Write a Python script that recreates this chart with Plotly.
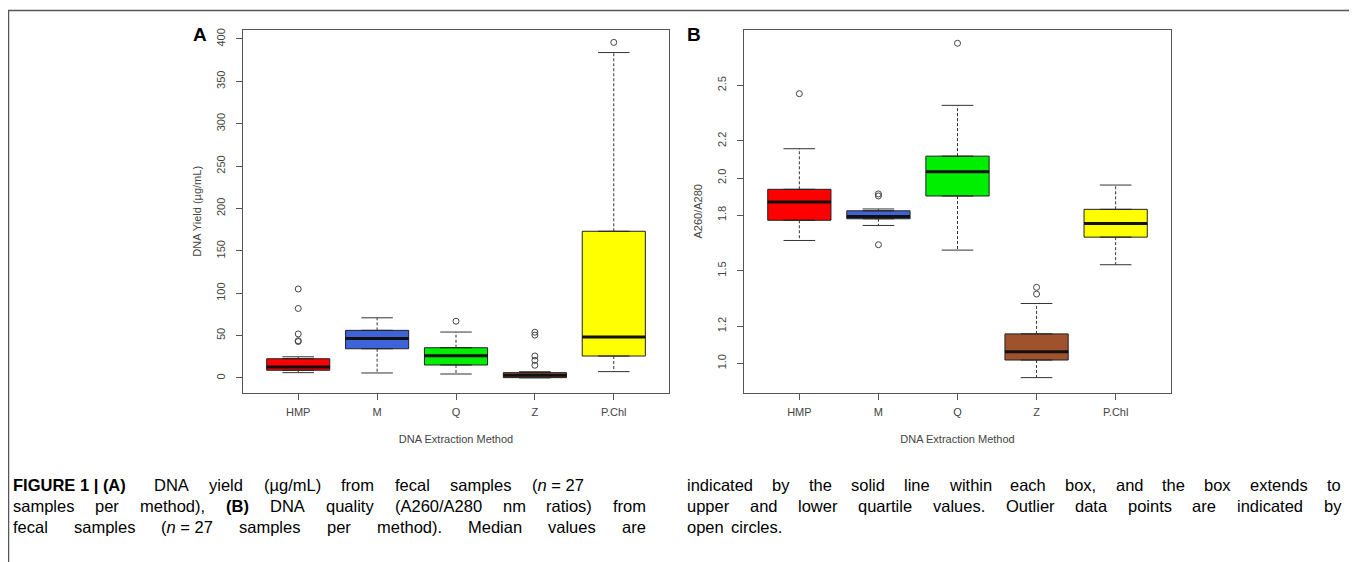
import plotly.graph_objects as go

# ---------------- data ----------------
methods = ["HMP", "M", "Q", "Z", "P.Chl"]
colors = ["#ff0000", "#3f63d8", "#00ee00", "#a0522d", "#ffff00"]

# Panel A: DNA yield (ug/mL)
yield_low = [6.3, 5.9, 4.7, 0.2, 7.5]
yield_q1 = [9.1, 34.5, 15.3, 0.4, 25.9]
yield_med = [13.0, 46.7, 26.3, 3.1, 48.3]
yield_q3 = [22.7, 56.2, 35.7, 6.3, 173.1]
yield_high = [25.0, 71.0, 54.2, 7.4, 384.0]
yield_out = [[105, 82, 52, 44, 43], [], [67], [54, 50.6, 26, 20.8, 15], [396]]

# Panel B: A260/A280
ratio_low = [1.663, 1.744, 1.611, 0.923, 1.532]
ratio_q1 = [1.772, 1.780, 1.903, 1.018, 1.681]
ratio_med = [1.871, 1.792, 2.034, 1.062, 1.754]
ratio_q3 = [1.939, 1.823, 2.118, 1.159, 1.831]
ratio_high = [2.158, 1.833, 2.392, 1.323, 1.962]
ratio_out = [[2.455], [1.914, 1.903, 1.640], [2.727], [1.410, 1.374], []]

yieldA_ticks = [0, 50, 100, 150, 200, 250, 300, 350, 400]
ratioB_ticks = [1.0, 1.2, 1.5, 1.8, 2.0, 2.2, 2.5]

# ---------------- figure ----------------
W, H = 1357, 562
OFF = 8  # page body margin
fig = go.Figure()

AX = "#555555"
TXT = "#444444"
FONT = "Liberation Sans, Arial"


def add_panel(xa, ya, low, q1, med, q3, high, outs):
    xs = list(range(1, len(methods) + 1))
    for i, x in enumerate(xs):
        fig.add_trace(go.Box(
            x=[x], q1=[q1[i]], median=[med[i]], q3=[q3[i]],
            lowerfence=[q1[i]], upperfence=[q3[i]],
            width=0.8, fillcolor=colors[i],
            line=dict(color="#222222", width=1),
            xaxis=xa, yaxis=ya, showlegend=False, hoverinfo="skip",
            boxpoints=False,
        ))
        for a, b in ((q3[i], high[i]), (q1[i], low[i])):
            fig.add_trace(go.Scatter(
                x=[x, x], y=[a, b], mode="lines",
                line=dict(color="#333333", width=1, dash="3px,2px"),
                xaxis=xa, yaxis=ya, showlegend=False, hoverinfo="skip"))
        for v in (high[i], low[i]):
            fig.add_trace(go.Scatter(
                x=[x - 0.2, x + 0.2], y=[v, v], mode="lines",
                line=dict(color="#333333", width=1),
                xaxis=xa, yaxis=ya, showlegend=False, hoverinfo="skip"))
        fig.add_trace(go.Scatter(
            x=[x - 0.4, x + 0.4], y=[med[i], med[i]], mode="lines",
            line=dict(color="#111111", width=3),
            xaxis=xa, yaxis=ya, showlegend=False, hoverinfo="skip"))
        if outs[i]:
            fig.add_trace(go.Scatter(
                x=[x] * len(outs[i]), y=outs[i], mode="markers",
                marker=dict(symbol="circle-open", size=6,
                            color="#444444", line=dict(width=1)),
                xaxis=xa, yaxis=ya, showlegend=False, hoverinfo="skip"))


add_panel("x", "y", yield_low, yield_q1, yield_med, yield_q3, yield_high, yield_out)
add_panel("x2", "y2", ratio_low, ratio_q1, ratio_med, ratio_q3, ratio_high, ratio_out)


def px_x(p):
    return (p - OFF) / W


def px_y(p):
    return 1 - (p - OFF) / H


xcommon = dict(
    range=[0.3, 5.7], tickmode="array", tickvals=[1, 2, 3, 4, 5], ticktext=methods,
    ticks="outside", ticklen=6, tickcolor=AX, showline=True, linecolor=AX,
    linewidth=1, mirror=True, showgrid=False, zeroline=False, ticklabelstandoff=3,
    tickfont=dict(family=FONT, size=11, color=TXT),
    title=dict(text="DNA Extraction Method", standoff=18,
               font=dict(family=FONT, size=11, color=TXT)),
)
ycommon = dict(
    ticks="outside", ticklen=6, tickcolor=AX, showline=True, linecolor=AX,
    linewidth=1, mirror=True, showgrid=False, zeroline=False, tickangle=-90,
    ticklabelstandoff=7,
    tickfont=dict(family=FONT, size=11, color=TXT),
)

y_dom = [px_y(392), px_y(28)]
fig.update_layout(
    width=W, height=H, margin=dict(l=0, r=0, t=0, b=0),
    paper_bgcolor="white", plot_bgcolor="white", showlegend=False,
    xaxis=dict(domain=[px_x(243), px_x(669)], anchor="y", **xcommon),
    yaxis=dict(domain=y_dom, anchor="x", range=[-17.3, 410.7],
               tickmode="array", tickvals=yieldA_ticks,
               ticktext=[str(t) for t in yieldA_ticks],
               title=dict(text="DNA Yield (µg/mL)", standoff=10,
                          font=dict(family=FONT, size=11, color=TXT)),
               **ycommon),
    xaxis2=dict(domain=[px_x(744), px_x(1171)], anchor="y2", **xcommon),
    yaxis2=dict(domain=y_dom, anchor="x2", range=[0.842, 2.799],
                tickmode="array", tickvals=ratioB_ticks,
                ticktext=["%.1f" % t for t in ratioB_ticks],
                title=dict(text="A260/A280", standoff=10,
                           font=dict(family=FONT, size=11, color=TXT)),
                **ycommon),
)

# outer frame
fig.add_shape(type="rect", xref="paper", yref="paper",
              x0=px_x(8.5), x1=px_x(1354), y0=px_y(620), y1=px_y(8.5),
              line=dict(color="#555555", width=1.5))

# panel letters
for lab, xp in (("A", 200), ("B", 694)):
    fig.add_annotation(text="<b>%s</b>" % lab, xref="paper", yref="paper",
                       x=px_x(xp), y=px_y(33), xanchor="center", yanchor="middle",
                       showarrow=False,
                       font=dict(family=FONT, size=19, color="black"))

# ---------------- caption (justified) ----------------
REG = {" ": 278, "(": 333, ")": 333, ",": 278, "-": 333, ".": 278, "/": 278,
       "=": 584, "|": 260, "µ": 556, "A": 667, "B": 667, "C": 722, "D": 722, "E": 667,
       "F": 611, "G": 778, "H": 722, "I": 278, "L": 556, "M": 833, "N": 722, "O": 778,
       "P": 667, "R": 722, "S": 667, "T": 611, "U": 722,
       "a": 556, "b": 556, "c": 500, "d": 556, "e": 556, "f": 278, "g": 556, "h": 556,
       "i": 222, "j": 222, "k": 500, "l": 222, "m": 833, "n": 556, "o": 556, "p": 556,
       "q": 556, "r": 333, "s": 500, "t": 278, "u": 556, "v": 500, "w": 722, "x": 500,
       "y": 500, "z": 500}
FS = 16.5


def word_w(w, bold=False):
    tot = sum(REG.get(c, 556) for c in w)
    if bold:
        tot *= 1.08
    return tot * FS / 1000.0


cap_lines = [
    (12, 583, 485, [("<b>FIGURE 1 | (A)</b>", "FIGURE 1 | (A)", True), ("DNA", "DNA", False),
                    ("yield", "yield", False), ("(µg/mL)", "(µg/mL)", False),
                    ("from", "from", False), ("fecal", "fecal", False),
                    ("samples", "samples", False), ("(<i>n</i> = 27", "(n = 27", False)]),
    (12, 645, 506, [(w, w, False) for w in "samples per method),".split()] +
     [("<b>(B)</b>", "(B)", True)] +
     [(w, w, False) for w in "DNA quality (A260/A280 nm ratios) from".split()]),
    (12, 645, 527, [(w, w, False) for w in "fecal samples".split()] +
     [("(<i>n</i> = 27", "(n = 27", False)] +
     [(w, w, False) for w in "samples per method). Median values are".split()]),
    (686, 1340, 485, [(w, w, False) for w in
                      "indicated by the solid line within each box, and the box extends to".split()]),
    (686, 1340, 506, [(w, w, False) for w in
                      "upper and lower quartile values. Outlier data points are indicated by".split()]),
    (686, None, 527, [(w, w, False) for w in "open circles.".split()]),
]

for left, right, yc, words in cap_lines:
    widths = [word_w(p, b) for _, p, b in words]
    if right is None:
        gap = 278 * FS / 1000.0 * 1.6
    else:
        gap = (right - left - sum(widths)) / (len(words) - 1)
    x = left
    for (html, plain, b), wd in zip(words, widths):
        fig.add_annotation(text=html, xref="paper", yref="paper",
                           x=px_x(x), y=px_y(yc), xanchor="left", yanchor="middle",
                           showarrow=False, borderpad=0,
                           font=dict(family=FONT, size=FS, color="black"))
        x += wd + gap

fig.write_html("out.html")
